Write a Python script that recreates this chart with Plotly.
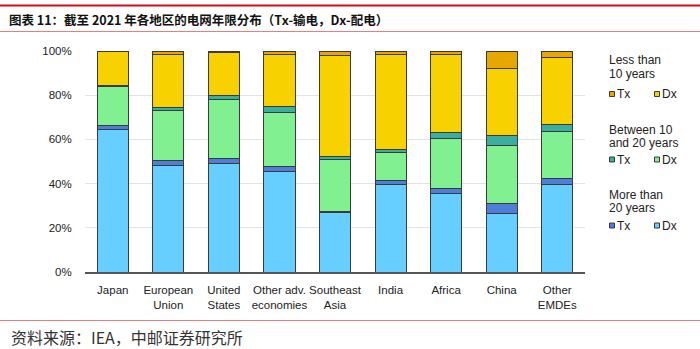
import plotly.graph_objects as go

categories = ["Japan", "European<br>Union", "United<br>States", "Other adv.<br>economies",
              "Southeast<br>Asia", "India", "Africa", "China", "Other<br>EMDEs"]

dx_over20 = [64.5, 48.3, 49.3, 45.4, 26.7, 39.7, 35.3, 26.5, 39.7]
tx_over20 = [1.6, 2.1, 2.1, 2.4, 0.9, 1.5, 2.4, 4.3, 2.8]
dx_10to20 = [17.7, 22.6, 26.7, 24.4, 23.4, 13.0, 22.9, 26.5, 21.3]
tx_10to20 = [0.6, 1.4, 1.8, 2.6, 1.2, 1.2, 2.3, 4.4, 3.0]
dx_under10 = [15.3, 24.1, 19.3, 23.7, 45.8, 42.9, 35.3, 30.5, 30.3]
tx_under10 = [0.3, 1.5, 0.8, 1.5, 2.0, 1.7, 1.8, 7.8, 2.9]

C_DX_OLD = "#66CFFF"
C_TX_OLD = "#4F7ED8"
C_DX_MID = "#80F090"
C_TX_MID = "#3BAE9F"
C_DX_NEW = "#F8D200"
C_TX_NEW = "#E6A800"

W, H = 700, 349
L, R, T, B = 85, 585, 51, 272  # plot area in pixels

def px(x):
    return (x - L) / (R - L)

def py(y):
    return (B - y) / (B - T)

series = [
    ("More than 20 years Dx", dx_over20, C_DX_OLD),
    ("More than 20 years Tx", tx_over20, C_TX_OLD),
    ("Between 10 and 20 years Dx", dx_10to20, C_DX_MID),
    ("Between 10 and 20 years Tx", tx_10to20, C_TX_MID),
    ("Less than 10 years Dx", dx_under10, C_DX_NEW),
    ("Less than 10 years Tx", tx_under10, C_TX_NEW),
]

fig = go.Figure()
for name, vals, col in series:
    fig.add_trace(go.Bar(x=categories, y=vals, name=name, marker_color=col,
                         marker_line_color="#3a3a3a", marker_line_width=1,
                         showlegend=False))

shapes = []
annotations = []

# Title bar lines
shapes.append(dict(type="line", xref="paper", yref="paper", x0=px(0), x1=px(W),
                   y0=py(5.5), y1=py(5.5), line=dict(color="#D0101C", width=2)))
shapes.append(dict(type="line", xref="paper", yref="paper", x0=px(0), x1=px(W),
                   y0=py(31.5), y1=py(31.5), line=dict(color="#E58080", width=1)))
shapes.append(dict(type="line", xref="paper", yref="paper", x0=px(0), x1=px(W),
                   y0=py(320.5), y1=py(320.5), line=dict(color="#E58080", width=1)))

annotations.append(dict(text="<b>图表 11：截至 2021 年各地区的电网年限分布（Tx-输电，Dx-配电）</b>",
                        xref="paper", yref="paper", x=px(7), y=py(19), xanchor="left",
                        yanchor="middle", showarrow=False,
                        font=dict(family="Noto Sans CJK SC", size=12.5, color="#111111")))
annotations.append(dict(text="资料来源：IEA，中邮证券研究所",
                        xref="paper", yref="paper", x=px(9), y=py(337), xanchor="left",
                        yanchor="middle", showarrow=False,
                        font=dict(family="Noto Sans CJK SC", size=16, color="#333333")))

# Custom legend
groups = [
    (["Less than", "10 years"], [60.5, 74], 94, C_TX_NEW, C_DX_NEW),
    (["Between 10", "and 20 years"], [129.5, 142.5], 159.5, C_TX_MID, C_DX_MID),
    (["More than", "20 years"], [194.5, 208], 225.5, C_TX_OLD, C_DX_OLD),
]
lf = dict(family="Liberation Sans, Arial", size=12, color="#222222")
for lines, ys, sy, ctx, cdx in groups:
    for txt, yy in zip(lines, ys):
        annotations.append(dict(text=txt, xref="paper", yref="paper", x=px(607), y=py(yy),
                                xanchor="left", yanchor="middle", showarrow=False, font=lf))
    for x0, col, lab in [(609.5, ctx, "Tx"), (654.5, cdx, "Dx")]:
        shapes.append(dict(type="rect", xref="paper", yref="paper",
                           x0=px(x0), x1=px(x0 + 5), y0=py(sy - 2.5), y1=py(sy + 2.5),
                           fillcolor=col, line=dict(color="#3a3a3a", width=1)))
        annotations.append(dict(text=lab, xref="paper", yref="paper", x=px(x0 + 5.5), y=py(sy),
                                xanchor="left", yanchor="middle", showarrow=False, font=lf))

fig.update_layout(
    width=W, height=H,
    margin=dict(l=L, r=W - R, t=T, b=H - B, pad=0),
    barmode="stack", bargap=0.44,
    paper_bgcolor="white", plot_bgcolor="white",
    font=dict(family="Liberation Sans, Arial", size=11, color="#222222"),
    shapes=shapes, annotations=annotations,
)
fig.update_xaxes(showline=True, linecolor="#555555", linewidth=1.5,
                 ticks="outside", ticklen=6, tickcolor="rgba(0,0,0,0)",
                 tickfont=dict(size=11.5, color="#222222"), tickangle=0)
fig.update_yaxes(range=[0, 100], dtick=20, ticksuffix="%", showgrid=True,
                 gridcolor="#E3E3E3", gridwidth=1, zeroline=False,
                 ticks="outside", ticklen=10, tickcolor="rgba(0,0,0,0)",
                 tickfont=dict(size=11.5, color="#222222"))

fig.write_html("out.html")
